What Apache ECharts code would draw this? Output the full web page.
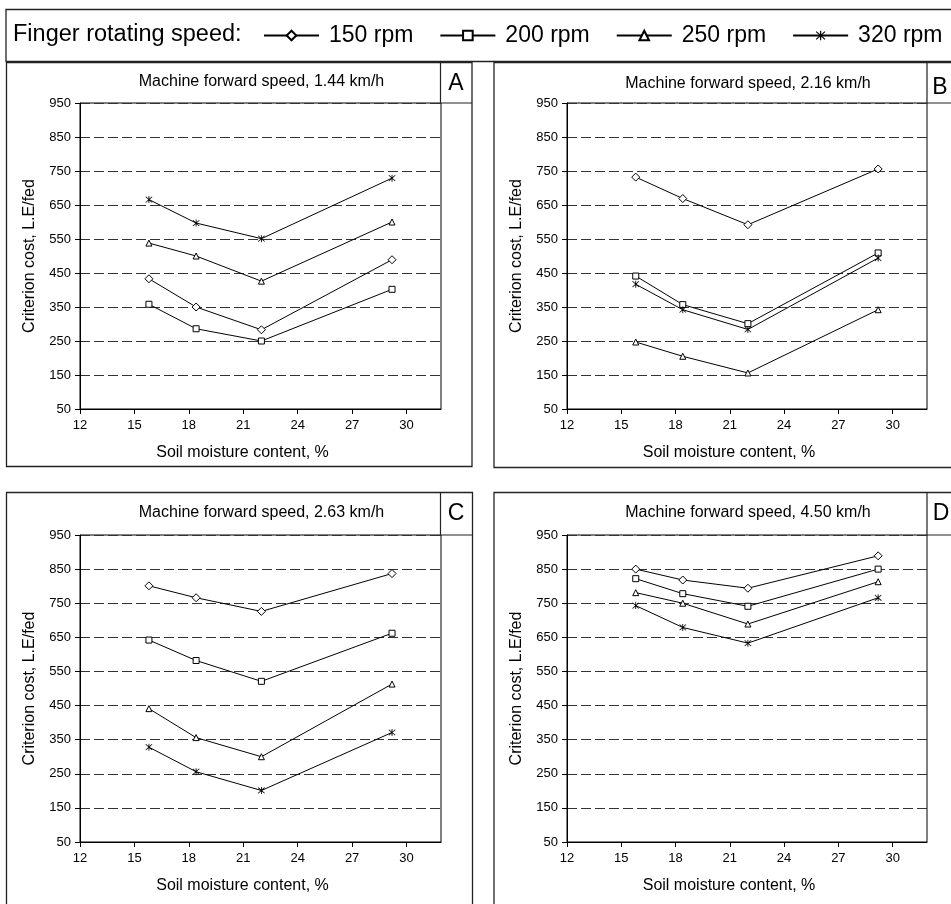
<!DOCTYPE html>
<html>
<head>
<meta charset="utf-8">
<script src="https://cdn.jsdelivr.net/npm/echarts@6/dist/echarts.min.js"></script>
<style>
  html, body { margin: 0; padding: 0; background: #fff; }
  #chart { width: 951px; height: 904px; }
</style>
</head>
<body>
<div id="chart"></div>
<script>
// Soil moisture levels (%) shared by every panel
const moisture = [15.8, 18.4, 22.0, 29.2];
const rpmNames = ['150 rpm', '200 rpm', '250 rpm', '320 rpm'];
const xTickValues = [12, 15, 18, 21, 24, 27, 30];
const forwardSpeeds = ['1.44', '2.16', '2.63', '4.50'];
const panelLetters = ['A', 'B', 'C', 'D'];

// Criterion cost (L.E/fed), one array per finger speed, per forward speed
const costA150 = [433, 350, 283, 489];
const costA200 = [358, 286, 250, 402];
const costA250 = [538, 500, 426, 600];
const costA320 = [666, 597, 551, 729];

const costB150 = [732, 669, 592, 756];
const costB200 = [441, 357, 301, 509];
const costB250 = [247, 205, 156, 342];
const costB320 = [417, 342, 284, 494];

const costC150 = [801, 766, 726, 837];
const costC200 = [642, 582, 521, 662];
const costC250 = [441, 356, 300, 513];
const costC320 = [328, 256, 201, 371];

const costD150 = [850, 818, 794, 889];
const costD200 = [822, 778, 741, 850];
const costD250 = [781, 750, 689, 813];
const costD320 = [743, 679, 633, 766];

const panelCosts = [
  [costA150, costA200, costA250, costA320],
  [costB150, costB200, costB250, costB320],
  [costC150, costC200, costC250, costC320],
  [costD150, costD200, costD250, costD320]
];

const FONT = '"Liberation Sans", Arial, Helvetica, sans-serif';

// Plot rectangles and frame geometry for the 2x2 layout
const plots = [
  { left: 80,  top: 103, width: 361, height: 306, titleY: 82,  letterX: 456, letterY: 84,
    frame: { x: 6.5, y: 62.5, w: 465.5, h: 404 }, letterBox: { x: 440.5, top: 62.5, bottom: 103, right: 472 } },
  { left: 567, top: 103, width: 360, height: 306, titleY: 84,  letterX: 940, letterY: 88,
    frame: { x: 494, y: 62.5, w: 480, h: 405 }, letterBox: { x: 927, top: 62.5, bottom: 103, right: 960 } },
  { left: 80,  top: 535, width: 361, height: 307, titleY: 513, letterX: 456, letterY: 514,
    frame: { x: 6.5, y: 492.5, w: 466, h: 460 }, letterBox: { x: 440.5, top: 492.5, bottom: 535, right: 473 } },
  { left: 567, top: 535, width: 360, height: 307, titleY: 513, letterX: 941, letterY: 514,
    frame: { x: 494, y: 492.5, w: 480, h: 460 }, letterBox: { x: 927, top: 492.5, bottom: 535, right: 960 } }
];

// Hollow markers for 150/200/250 rpm and an asterisk for 320 rpm
const asterisk = 'path://M4.9,0L6.1,0L6.1,11L4.9,11Z' +
  'M0.6,1.4L1.4,0.6L10.4,9.6L9.6,10.4Z' +
  'M9.6,0.6L10.4,1.4L1.4,10.4L0.6,9.6Z';
const markerStyles = [
  { symbol: 'diamond', size: 8, fill: '#fff', border: 1 },
  { symbol: 'rect', size: 6, fill: '#fff', border: 1 },
  { symbol: 'triangle', size: 6, fill: '#fff', border: 1 },
  { symbol: asterisk, size: 7, fill: '#000', border: 0 }
];

const grids = [], xAxes = [], yAxes = [], series = [], graphics = [];

plots.forEach((p, pi) => {
  grids.push({
    left: p.left, top: p.top, width: p.width, height: p.height,
    show: true, borderColor: '#000', borderWidth: 1, backgroundColor: 'transparent'
  });
  xAxes.push({
    type: 'value', gridIndex: pi, min: 12, max: 31.9,
    name: 'Soil moisture content, %', nameLocation: 'middle', nameGap: 36,
    nameTextStyle: { fontSize: 16, color: '#000', fontFamily: FONT, padding: [0, 36, 0, 0] },
    axisLine: { show: true, lineStyle: { color: '#000', width: 1 } },
    axisTick: { show: true, length: 5, inside: false, customValues: xTickValues, lineStyle: { color: '#000' } },
    axisLabel: { fontSize: 13, color: '#000', fontFamily: FONT, margin: 10, customValues: xTickValues },
    splitLine: { show: false }
  });
  yAxes.push({
    type: 'value', gridIndex: pi, min: 50, max: 950, interval: 100,
    name: 'Criterion cost, L.E/fed', nameLocation: 'middle', nameGap: 42,
    nameTextStyle: { fontSize: 16, color: '#000', fontFamily: FONT },
    axisLine: { show: true, lineStyle: { color: '#000', width: 1 } },
    axisTick: { show: true, length: 5, inside: false, lineStyle: { color: '#000' } },
    axisLabel: { fontSize: 13, color: '#000', fontFamily: FONT, margin: 9 },
    splitLine: { show: true, lineStyle: { color: '#333', width: 1.2, type: [10, 4] } }
  });

  panelCosts[pi].forEach((vals, si) => {
    const m = markerStyles[si];
    series.push({
      type: 'line', name: rpmNames[si], xAxisIndex: pi, yAxisIndex: pi,
      data: moisture.map((x, j) => [x, vals[j]]),
      symbol: m.symbol, symbolSize: m.size, showAllSymbol: true,
      lineStyle: { color: '#000', width: 1 },
      itemStyle: { color: m.fill, borderColor: '#000', borderWidth: m.border },
      emphasis: { disabled: true }, silent: true, z: 3
    });
  });

  // panel frame and letter box
  graphics.push({
    type: 'rect', silent: true, z: 10,
    shape: { x: p.frame.x, y: p.frame.y, width: p.frame.w, height: p.frame.h },
    style: { fill: null, stroke: '#222', lineWidth: 1.3 }
  });
  graphics.push({
    type: 'polyline', silent: true, z: 10,
    shape: { points: [[p.letterBox.x, p.letterBox.top], [p.letterBox.x, p.letterBox.bottom], [p.letterBox.right, p.letterBox.bottom]] },
    style: { fill: null, stroke: '#222', lineWidth: 1.2 }
  });
  graphics.push({
    type: 'text', silent: true, z: 10,
    x: p.left + p.width / 2 + 1, y: p.titleY,
    style: { text: 'Machine forward speed, ' + forwardSpeeds[pi] + ' km/h', fill: '#000',
      font: '16px ' + FONT, textAlign: 'center', textVerticalAlign: 'middle' }
  });
  graphics.push({
    type: 'text', silent: true, z: 10,
    x: p.letterX, y: p.letterY,
    style: { text: panelLetters[pi], fill: '#000', font: '23px ' + FONT,
      textAlign: 'center', textVerticalAlign: 'middle' }
  });
});

// legend frame and caption
graphics.push({
  type: 'rect', silent: true, z: 10,
  shape: { x: 6, y: 9.5, width: 960, height: 52 },
  style: { fill: null, stroke: '#222', lineWidth: 1.3 }
});
graphics.push({
  type: 'text', silent: true, z: 10, x: 13, y: 35,
  style: { text: 'Finger rotating speed:', fill: '#000', font: '23.5px ' + FONT,
    textAlign: 'left', textVerticalAlign: 'middle' }
});

const chart = echarts.init(document.getElementById('chart'), null, { renderer: 'canvas' });
chart.setOption({
  animation: false,
  backgroundColor: '#fff',
  legend: {
    data: rpmNames, left: 263, top: 24, width: 900, padding: 0, orient: 'horizontal',
    itemWidth: 55, itemHeight: 12, itemGap: 26, selectedMode: false,
    textStyle: { fontSize: 23, color: '#000', fontFamily: FONT, padding: [0, 0, 0, 5] }
  },
  grid: grids,
  xAxis: xAxes,
  yAxis: yAxes,
  series: series,
  graphic: graphics
});
</script>
</body>
</html>
